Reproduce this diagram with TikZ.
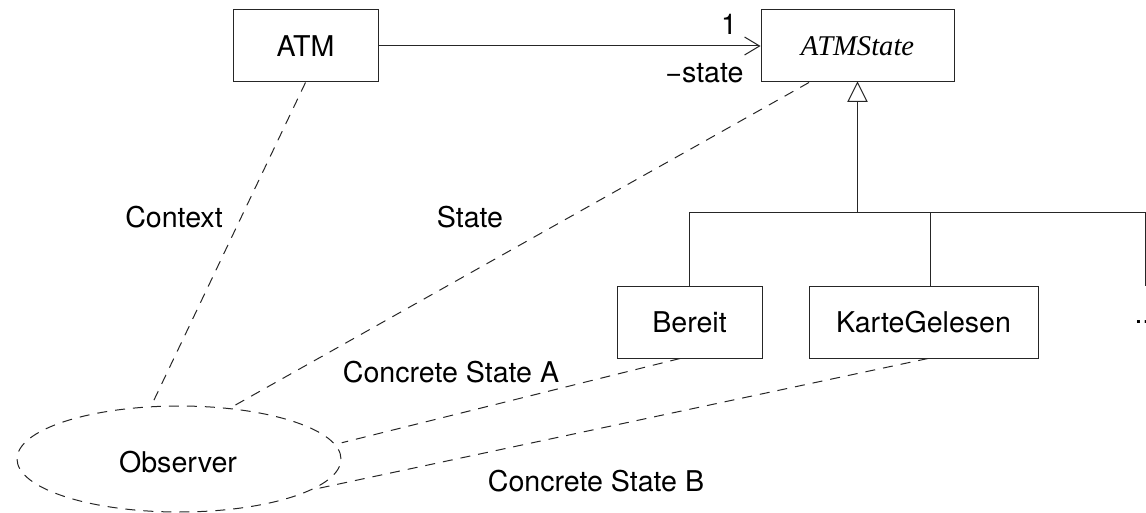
\documentclass[tikz,border=0pt]{standalone}
\usepackage{fontspec}
\setmainfont{TeX Gyre Heros}
\newfontfamily\timesfont{Liberation Serif}
\usetikzlibrary{shapes.geometric,arrows.meta,calc}
\begin{document}
\begin{tikzpicture}[x=1pt,y=-1pt,
  font=\fontsize{28.6}{34}\selectfont,
  line width=1pt,
  cls/.style={draw=black!85, rectangle, minimum height=72pt, inner sep=0pt},
  link/.style={draw=black!85, line width=1pt, dash pattern=on 10pt off 8pt},
  solid line/.style={draw=black!85, line width=1pt},
  lbl/.style={inner sep=0pt}]
\useasboundingbox (0,0) rectangle (1146,513);

% classes
\node[cls, minimum width=145pt] (ATM) at (305.5,46) {ATM};
\node[cls, minimum width=193pt] (ATMState) at (857.5,46) {\timesfont\itshape ATMState};
\node[cls, minimum width=145pt] (Bereit) at (689.5,322) {Bereit};
\node[cls, minimum width=229pt] (KarteGelesen) at (923.5,322) {KarteGelesen};
\node[lbl, anchor=base west] (more) at (1134,323) {...};

% observer
\node[ellipse, draw=black!85, dash pattern=on 10pt off 8pt, line width=1pt,
      minimum width=324pt, minimum height=106pt, inner sep=0pt] (Observer) at (179,459) {};
\node[lbl] (obslabel) at (178,462) {Observer};

% association
\draw[solid line, -{Straight Barb[length=15pt,width=18pt,line width=1pt]}] (ATM.east) -- (ATMState.west);
\node[lbl] (mult) at (729,24) {1};
\node[lbl, anchor=base east] (role) at (744,83) {−state};

% generalization
\coordinate (tri) at ($(ATMState.south)+(0,19)$);
\coordinate (bar) at (857.5,213);
\coordinate (moretop) at (1145,286);
\draw[solid line] (ATMState.south) -- ++(-9.5,19) -- ++(19,0) -- cycle;
\draw[solid line] (tri) -- (bar);
\draw[solid line] (Bereit.north) -- (Bereit.north |- bar) -- (moretop |- bar) -- (moretop);
\draw[solid line] ($(KarteGelesen.north)+(6.5,0)$) -- ($(KarteGelesen.north |- bar)+(6.5,0)$);

% role links
\draw[link] (ATM.south) -- (Observer.118);
\draw[link] ($(ATMState.south west)!0.25!(ATMState.south east)$) -- (Observer.45);
\draw[link] ($(Bereit.south west)!0.435!(Bereit.south east)$) -- ($(Observer.6)+(8,0)$);
\draw[link] ($(KarteGelesen.south)+(4.5,0)$) -- (Observer.-13.4);

% role labels
\node[lbl] (ctx) at (174,217) {Context};
\node[lbl] (st) at (470,217) {State};
\node[lbl] (csa) at (451,372) {Concrete State A};
\node[lbl] (csb) at (596,481) {Concrete State B};
\end{tikzpicture}
\end{document}
